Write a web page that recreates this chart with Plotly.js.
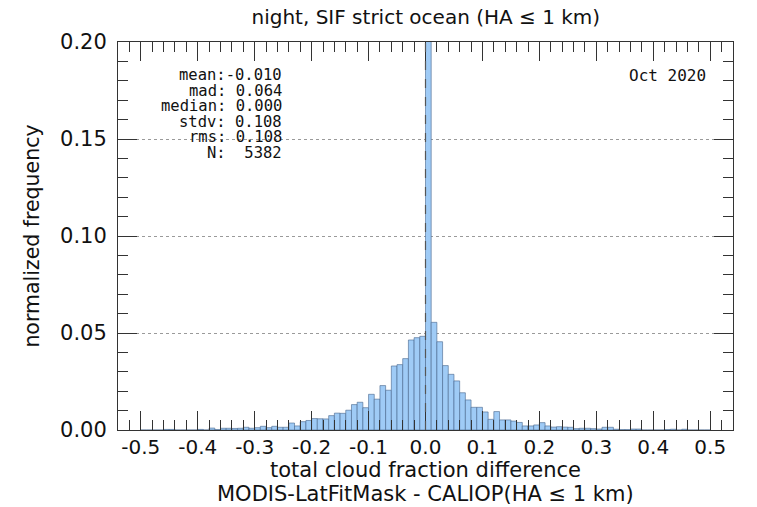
<!DOCTYPE html>
<html>
<head>
<meta charset="utf-8">
<script src="https://cdn.plot.ly/plotly-3.0.1.min.js"></script>
<style>
  html, body { margin: 0; padding: 0; background: #ffffff; }
  #chart { width: 757px; height: 507px; }
</style>
</head>
<body>
<div id="chart"></div>
<script>
// ---- data ----
const binStart = -0.5;      // left edge of first bin
const binWidth = 0.01;      // bin width
const freq = [
  0, 0, 0, 0, 0.0003, 0.0003, 0, 0, 0, 0,                                  // -0.50 .. -0.41
  0.0003, 0, 0.0010, 0.0002, 0.0009, 0.0009, 0.0008, 0.0009, 0.0014, 0.0009, // -0.40 .. -0.31
  0.0012, 0.0019, 0.0012, 0.0019, 0.0014, 0.0014, 0.0036, 0.0021, 0.0043, 0.0049, // -0.30 .. -0.21
  0.0059, 0.0058, 0.0057, 0.0074, 0.0087, 0.0086, 0.0102, 0.0131, 0.0143, 0.0115, // -0.20 .. -0.11
  0.0184, 0.0159, 0.0229, 0.0205, 0.0330, 0.0337, 0.0368, 0.0464, 0.0476, 0.0483, // -0.10 .. -0.01
  0.2300, 0.0555, 0.0455, 0.0332, 0.0287, 0.0253, 0.0192, 0.0155, 0.0117, 0.0117, //  0.00 ..  0.09
  0.0093, 0.0055, 0.0095, 0.0052, 0.0052, 0.0046, 0.0039, 0.0021, 0.0021, 0.0026, //  0.10 ..  0.19
  0.0038, 0.0021, 0.0015, 0.0017, 0.0015, 0.0014, 0.0007, 0.0009, 0.0009, 0.0007, //  0.20 ..  0.29
  0.0005, 0.0014, 0.0014, 0.0004, 0.0002, 0.0002, 0.0005, 0.0005, 0, 0,           //  0.30 ..  0.39
  0, 0, 0.0002, 0.0004, 0, 0.0004, 0, 0, 0, 0                                    //  0.40 ..  0.49
];

const xTickVals = [-0.5, -0.4, -0.3, -0.2, -0.1, 0.0, 0.1, 0.2, 0.3, 0.4, 0.5];
const xTickText = ["-0.5", "-0.4", "-0.3", "-0.2", "-0.1", "0.0", "0.1", "0.2", "0.3", "0.4", "0.5"];
const yTickVals = [0.00, 0.05, 0.10, 0.15, 0.20];
const yTickText = ["0.00", "0.05", "0.10", "0.15", "0.20"];

const statLines = [
  "mean:-0.010",
  "mad: 0.064",
  "median: 0.000",
  "stdv: 0.108",
  "rms: 0.108",
  "N:  5382"
];
const dateLabel = "Oct 2020";
const titleText = "night, SIF strict ocean (HA ≤ 1 km)";
const xTitleLines = ["total cloud fraction difference", "MODIS-LatFitMask - CALIOP(HA ≤ 1 km)"];
const yTitle = "normalized frequency";

// ---- chart ----
const font = "DejaVu Sans, sans-serif";
const axisCol = "#333333";
const txtCol = "#111111";

const trace = {
  type: "bar",
  x0: binStart + binWidth / 2,
  dx: binWidth,
  y: freq,
  width: binWidth,
  marker: { color: "#9fcbf6", line: { color: "rgba(70,100,140,0.75)", width: 0.8 } },
  hoverinfo: "skip"
};

const nbsp = s => s.replace(/ /g, "\u00a0");
const statY = [0.914, 0.874, 0.834, 0.794, 0.754, 0.714];
const monoFont = { family: "DejaVu Sans Mono, monospace", size: 15.5, color: txtCol };
const annotations = statLines.map((s, i) => ({
  xref: "paper", yref: "paper", x: 0.268, y: statY[i],
  xanchor: "right", yanchor: "middle", showarrow: false,
  text: nbsp(s), font: monoFont, borderpad: 0
}));
annotations.push({
  xref: "paper", yref: "paper", x: 0.958, y: 0.914,
  xanchor: "right", yanchor: "middle", showarrow: false,
  text: nbsp(dateLabel), font: { family: "DejaVu Sans Mono, monospace", size: 16, color: txtCol }, borderpad: 0
});
const xTitleY = [-0.103, -0.164];
xTitleLines.forEach((s, i) => annotations.push({
  xref: "paper", yref: "paper", x: 0.5, y: xTitleY[i],
  xanchor: "center", yanchor: "middle", showarrow: false,
  text: s, font: { family: font, size: 21, color: txtCol }, borderpad: 0
}));

const layout = {
  width: 757, height: 507,
  margin: { l: 118, r: 24, t: 42, b: 77 },
  paper_bgcolor: "#ffffff", plot_bgcolor: "#ffffff",
  font: { family: font, size: 20, color: txtCol },
  showlegend: false,
  bargap: 0,
  title: {
    text: titleText, x: 0.5625, xref: "container", xanchor: "center",
    y: 0.966, yanchor: "middle", font: { family: font, size: 20, color: txtCol }
  },
  xaxis: {
    range: [-0.54, 0.54],
    tickvals: xTickVals, ticktext: xTickText,
    ticks: "inside", ticklen: 19, tickwidth: 1, tickcolor: axisCol,
    minor: { dtick: 0.02, tick0: 0, ticks: "inside", ticklen: 10, tickwidth: 1, tickcolor: axisCol, showgrid: false },
    showline: true, linecolor: axisCol, linewidth: 1, mirror: "allticks",
    showgrid: false, zeroline: false,
    ticklabelstandoff: -1,
    tickfont: { family: font, size: 20, color: txtCol },
    automargin: false
  },
  yaxis: {
    range: [0, 0.2],
    tickvals: yTickVals, ticktext: yTickText,
    ticks: "inside", ticklen: 19, tickwidth: 1, tickcolor: axisCol,
    minor: { dtick: 0.01, tick0: 0, ticks: "inside", ticklen: 10, tickwidth: 1, tickcolor: axisCol, showgrid: false },
    showline: true, linecolor: axisCol, linewidth: 1, mirror: "allticks",
    showgrid: true, gridcolor: "#9a9a9a", griddash: "dot", gridwidth: 1,
    zeroline: false,
    ticklabelstandoff: 6,
    tickfont: { family: font, size: 21, color: txtCol },
    title: { text: yTitle, font: { family: font, size: 20.5, color: txtCol }, standoff: 14 },
    automargin: false
  },
  shapes: [{
    type: "line", xref: "x", yref: "paper", x0: 0, x1: 0, y0: 0, y1: 1,
    line: { color: "#555555", width: 1.2, dash: "dash" }, layer: "above"
  }],
  annotations: annotations
};

Plotly.newPlot("chart", [trace], layout, { displayModeBar: false, staticPlot: true });
</script>
</body>
</html>
